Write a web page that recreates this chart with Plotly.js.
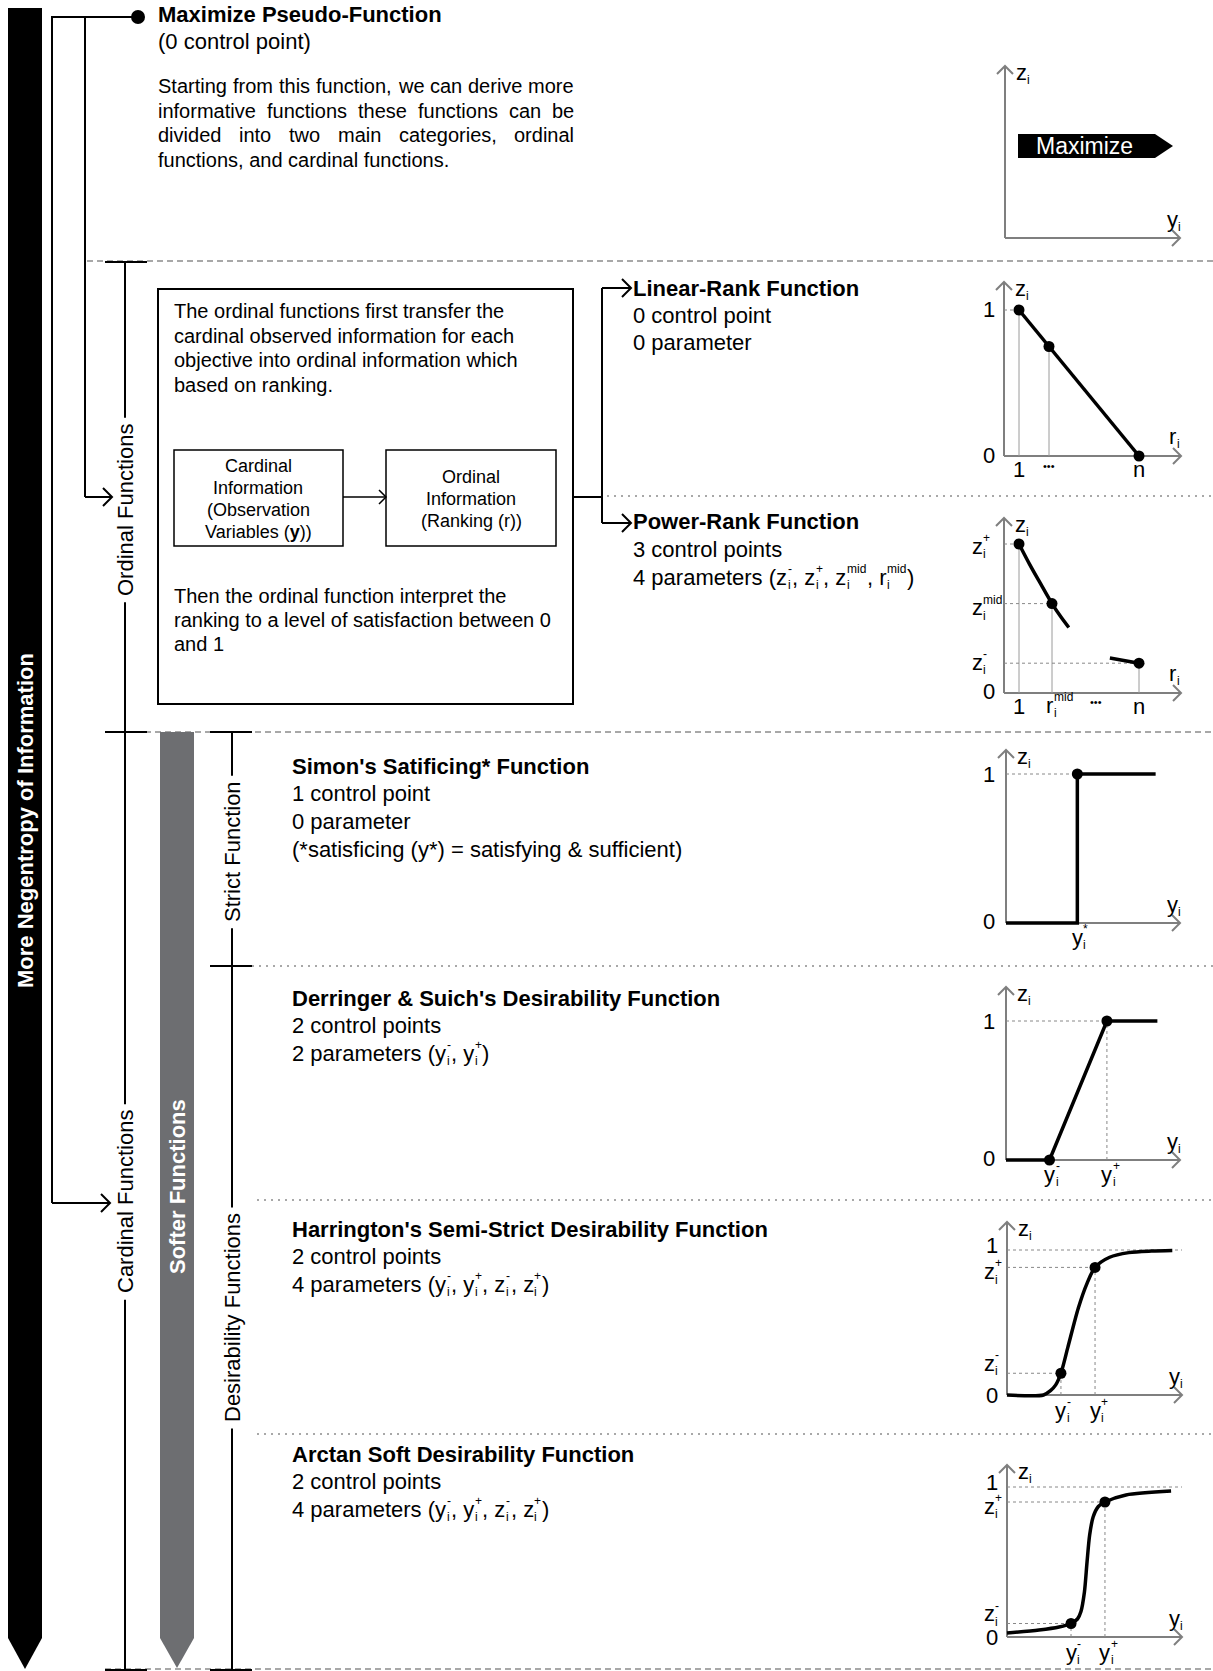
<!DOCTYPE html>
<html><head><meta charset="utf-8">
<script src="https://cdn.plot.ly/plotly-3.0.1.min.js"></script>
<style>html,body{margin:0;padding:0;background:#fff}#chart{width:1213px;height:1671px}</style>
</head><body><div id="chart"></div>
<script>
// ---------------- data ----------------
const linearRankR = [1, 2, 5];
const linearRankZ = [1, 0.75, 0];
const linearRankTickText = ['1', '•••', 'n'];

const powerRankR = [1, 2.1, 5];
const powerRankZ = [1, 0.6, 0.2];
const powerHeadR = [1, 1.35, 1.7, 2.1, 2.4, 2.66];
const powerHeadZ = [1, 0.865, 0.74, 0.6, 0.51, 0.44];
const powerTailR = [4.03, 5];
const powerTailZ = [0.235, 0.2];
const powerDotsR = 3.57;

const simonY = [0, 4.1, 4.1, 8.6];
const simonZ = [0, 0, 1, 1];
const simonCtrlY = [4.1];
const simonCtrlZ = [1];

const derringerY = [0, 2.5, 5.8, 8.7];
const derringerZ = [0, 0, 1, 1];
const derringerCtrlY = [2.5, 5.8];
const derringerCtrlZ = [0, 1];

const harringtonY = [0, 2.1, 2.5, 2.8, 3.1, 3.5, 4.1, 4.6, 5.06, 5.9, 7.0, 8.3, 9.5];
const harringtonZ = [0, 0, 0.03, 0.07, 0.15, 0.33, 0.6, 0.77, 0.88, 0.95, 0.982, 0.993, 0.997];
const harringtonCtrlY = [3.1, 5.06];
const harringtonCtrlZ = [0.15, 0.88];

const arctanY = [0, 1.84, 2.99, 3.68, 4.05, 4.25, 4.45, 4.6, 4.75, 4.95, 5.25, 5.63, 6.84, 9.43];
const arctanZ = [0.027, 0.047, 0.067, 0.09, 0.12, 0.17, 0.3, 0.5, 0.68, 0.8, 0.87, 0.9, 0.947, 0.973];
const arctanCtrlY = [3.68, 5.63];
const arctanCtrlZ = [0.09, 0.9];

// ---------------- helpers ----------------
const W = 1213, H = 1671;
const FONT = 'Liberation Sans, Arial, sans-serif';
const ctx = document.createElement('canvas').getContext('2d');
function tw(s, size, bold) { ctx.font = (bold ? 'bold ' : '') + size + 'px "Liberation Sans"'; return ctx.measureText(s).width; }
function esc(s) { return s.replace(/&/g, '&amp;').replace(/</g, '&lt;').replace(/>/g, '&gt;'); }

const annotations = [];
const shapes = [];
const traces = [];
const layout = {
  width: W, height: H, margin: {l: 0, r: 0, t: 0, b: 0, pad: 0},
  paper_bgcolor: '#fff', plot_bgcolor: 'rgba(0,0,0,0)', showlegend: false,
  xaxis: {domain: [0, 1], range: [0, W], visible: false, fixedrange: true, anchor: 'y'},
  yaxis: {domain: [0, 1], range: [H, 0], visible: false, fixedrange: true, anchor: 'x'}
};

function txt(x, y, text, o = {}) {
  annotations.push({
    xref: o.xref || 'x', yref: o.yref || 'y', x: x, y: y, text: text, showarrow: false,
    xanchor: o.xa || 'left', yanchor: o.ya || 'middle',
    xshift: o.dx || 0, yshift: o.dy || 0,
    font: {family: FONT, size: o.size || 22, color: o.color || '#000'},
    textangle: o.angle || 0, borderpad: o.pad || 0, borderwidth: 0,
    bgcolor: o.bg || 'rgba(0,0,0,0)'
  });
}
function rich(x, y, parts, o = {}) {
  const size = o.size || 22, bold = !!o.bold, ss = o.ss || Math.round(size * 0.56);
  let off = o.dx || 0;
  const base = o.dy || 0;
  for (const p of parts) {
    if (typeof p === 'string') {
      const body = p.replace(/^ +/, '');
      const lead = tw(p.slice(0, p.length - body.length), size, bold);
      const t = body.replace(/ +$/, '');
      if (t) txt(x, y, bold ? '<b>' + esc(t) + '</b>' : esc(t), Object.assign({}, o, {size: size, dx: off + lead, dy: base, xa: 'left'}));
      off += tw(p, size, bold);
    } else {
      if (p.sub) txt(x, y, esc(p.sub), Object.assign({}, o, {size: ss, dx: off + 0.5, dy: base - size * 0.37, xa: 'left'}));
      if (p.sup) txt(x, y, esc(p.sup), Object.assign({}, o, {size: ss, dx: off + 0.5, dy: base + size * 0.36, xa: 'left'}));
      off += Math.max(p.sub ? tw(p.sub, ss) : 0, p.sup ? tw(p.sup, ss) : 0) + 1;
    }
  }
}
function lab(x, y, baseTxt, sub, sup, o = {}) {
  const size = o.size || 22;
  const w = tw(baseTxt, size);
  const parts = (sub || sup) ? [baseTxt, {sub: sub, sup: sup}] : [baseTxt];
  rich(x, y, parts, Object.assign({}, o, {dx: (o.dx || 0) - w / 2}));
}
function justify(line, x0, x1, y, size) {
  const words = line.split(' ');
  const ws = words.map(w => tw(w, size));
  const gap = (x1 - x0 - ws.reduce((a, b) => a + b, 0)) / (words.length - 1);
  let cx = x0;
  words.forEach((w, i) => { txt(cx, y, esc(w), {size: size}); cx += ws[i] + gap; });
}

function line(x0, y0, x1, y1, color, width, dash, layer) {
  shapes.push({type: 'line', xref: 'x', yref: 'y', x0, y0, x1, y1, layer: layer || 'below',
    line: {color: color || '#000', width: width || 2, dash: dash || 'solid'}});
}
function path(d, color, width, fill, layer) {
  shapes.push({type: 'path', xref: 'x', yref: 'y', path: d, layer: layer || 'below',
    fillcolor: fill || 'rgba(0,0,0,0)', line: {color: color || '#000', width: width === undefined ? 2 : width}});
}
function rect(x0, y0, x1, y1, color, width, fill) {
  shapes.push({type: 'rect', xref: 'x', yref: 'y', x0, y0, x1, y1, layer: 'below',
    fillcolor: fill || 'rgba(0,0,0,0)', line: {color: color || '#000', width: width || 2}});
}
function chevR(x, y, s, c, w) { path(`M ${x - s} ${y - s} L ${x} ${y} L ${x - s} ${y + s}`, c, w); }
function chevU(x, y, s, c, w) { path(`M ${x - s} ${y + s} L ${x} ${y} L ${x + s} ${y + s}`, c, w); }
// vertical line with labelled gaps: labels = [[text, centerY], ...]
function labelledVLine(x, y0, y1, labels) {
  let cur = y0;
  labels.forEach(l => {
    const half = tw(l[0], 22) / 2 + 6;
    line(x, cur, x, l[1] - half);
    txt(x, l[1], l[0], {xa: 'center', angle: -90});
    cur = l[1] + half;
  });
  line(x, cur, x, y1);
}

const GRAY_AX = '#7f7f7f';
const SEP = '#8c8c8c';
function frame(p) {
  line(p.ox, p.yTop, p.ox, p.oy, GRAY_AX, 2);
  line(p.ox, p.oy, p.xEnd, p.oy, GRAY_AX, 2);
  chevU(p.ox, p.yTop, 8, GRAY_AX, 2);
  chevR(p.xEnd, p.oy, 8, GRAY_AX, 2);
}
function panel(p) {
  const pad = 10;
  layout['xaxis' + p.id] = {domain: [(p.ox - pad) / W, (p.xEnd + pad) / W],
    range: [p.x0 - pad / p.kx, p.x0 + (p.xEnd - p.ox + pad) / p.kx],
    visible: false, fixedrange: true, anchor: 'y' + p.id};
  layout['yaxis' + p.id] = {domain: [(H - p.oy - pad) / H, (H - p.yTop + pad) / H],
    range: [-pad / p.ky, (p.oy - p.yTop + pad) / p.ky],
    visible: false, fixedrange: true, anchor: 'x' + p.id};
  frame(p);
}
function ax(p) { return {xaxis: 'x' + p.id, yaxis: 'y' + p.id}; }
function guide(p, segs, dash, color, width) {
  const xs = [], ys = [];
  segs.forEach(s => { xs.push(s[0], s[2], null); ys.push(s[1], s[3], null); });
  traces.push(Object.assign({type: 'scatter', mode: 'lines', x: xs, y: ys, hoverinfo: 'skip',
    line: {color: color || '#888', width: width || 1, dash: dash || 'dot'}}, ax(p)));
}
function curve(p, xs, ys, shape) {
  traces.push(Object.assign({type: 'scatter', mode: 'lines', x: xs, y: ys, hoverinfo: 'skip', cliponaxis: false,
    line: {color: '#000', width: 3.5, shape: shape || 'linear', smoothing: 0.8}}, ax(p)));
}
function dots(p, xs, ys) {
  traces.push(Object.assign({type: 'scatter', mode: 'markers', x: xs, y: ys, hoverinfo: 'skip', cliponaxis: false,
    marker: {color: '#000', size: 11}}, ax(p)));
}

// ---------------- panel geometry ----------------
const PMAX = {ox: 1005, oy: 238, xEnd: 1180, yTop: 66};
const PLIN = {id: 2, ox: 1004, oy: 456, xEnd: 1181, yTop: 282, x0: 0.5, kx: 30, ky: 146};
const PPOW = {id: 3, ox: 1004, oy: 693, xEnd: 1181, yTop: 518, x0: 0.5, kx: 30, ky: 149};
const PSIM = {id: 4, ox: 1006, oy: 923, xEnd: 1180, yTop: 750, x0: 0, kx: 17.4, ky: 149};
const PDER = {id: 5, ox: 1006, oy: 1160, xEnd: 1180, yTop: 987, x0: 0, kx: 17.4, ky: 139};
const PHAR = {id: 6, ox: 1007, oy: 1395, xEnd: 1182, yTop: 1222, x0: 0, kx: 17.4, ky: 145};
const PARC = {id: 7, ox: 1007, oy: 1637, xEnd: 1182, yTop: 1465, x0: 0, kx: 17.4, ky: 150};

// ---------------- separators ----------------
line(87, 261, W, 261, SEP, 1.5, '6px,4px');
line(105, 732, W, 732, SEP, 1.5, '6px,4px');
line(105, 1669, W, 1669, SEP, 1.5, '6px,4px');
line(607, 496, W, 496, SEP, 1.5, '2px,5px');
line(252, 966, W, 966, SEP, 1.5, '2px,5px');
line(257, 1200, W, 1200, SEP, 1.5, '2px,5px');
line(257, 1434, W, 1434, SEP, 1.5, '2px,5px');

// ---------------- big bars ----------------
path('M 8 8 L 42 8 L 42 1638 L 25 1669 L 8 1638 Z', '#000', 0, '#000');
path('M 160 732 L 194 732 L 194 1638 L 177 1668 L 160 1638 Z', '#6d6e71', 0, '#6d6e71');
txt(25, 821, '<b>More Negentropy of Information</b>', {xa: 'center', angle: -90, color: '#fff', size: 22});
txt(177, 1187, '<b>Softer Functions</b>', {xa: 'center', angle: -90, color: '#fff', size: 22});

// ---------------- connectors ----------------
line(52, 17, 138, 17);
shapes.push({type: 'circle', xref: 'x', yref: 'y', x0: 131, x1: 145, y0: 10, y1: 24, fillcolor: '#000', line: {color: '#000', width: 0}, layer: 'below'});
line(52, 16, 52, 1203); line(52, 1203, 110, 1203); chevR(110, 1203, 9);
line(85, 17, 85, 497); line(85, 497, 112, 497); chevR(112, 497, 9);

labelledVLine(125, 262, 1670, [['Ordinal Functions', 510], ['Cardinal Functions', 1202]]);
line(105, 262, 147, 262); line(105, 732, 147, 732); line(105, 1670, 147, 1670);
labelledVLine(232, 732, 1670, [['Strict Function', 852], ['Desirability Functions', 1318]]);
line(210, 732, 252, 732); line(210, 966, 252, 966); line(210, 1670, 252, 1670);

// ---------------- section 1: maximize ----------------
txt(158, 14, '<b>Maximize Pseudo-Function</b>');
txt(158, 41, '(0 control point)');
const maxPara = ['Starting from this function, we can derive more',
  'informative functions these functions can be',
  'divided into two main categories, ordinal',
  'functions, and cardinal functions.'];
const maxParaY = [86, 111, 135, 160];
maxPara.forEach((l, i) => { if (i < 3) justify(l, 158, 574, maxParaY[i], 20); else txt(158, maxParaY[i], esc(l), {size: 20}); });
frame(PMAX);
path('M 1018 134 L 1155 134 L 1173 146 L 1155 158 L 1018 158 Z', '#000', 0, '#000');
txt(1084, 146, 'Maximize', {xa: 'center', color: '#fff', size: 23});
lab(PMAX.ox + 16, PMAX.yTop + 6, 'z', 'i', null);
lab(PMAX.xEnd - 8, PMAX.oy - 19, 'y', 'i', null);

// ---------------- section 2: ordinal ----------------
rect(158, 289, 573, 704, '#000', 2);
['The ordinal functions first transfer the', 'cardinal observed information for each',
 'objective into ordinal information which', 'based on ranking.'].forEach((l, i) => txt(174, [311, 336, 360, 385][i], l, {size: 20}));
['Then the ordinal function interpret the', 'ranking to a level of satisfaction between 0', 'and 1']
  .forEach((l, i) => txt(174, [596, 620, 644][i], l, {size: 20}));
rect(174, 450, 343, 546, '#000', 1.5);
rect(386, 450, 556, 546, '#000', 1.5);
['Cardinal', 'Information', '(Observation', 'Variables (<b>y</b>))'].forEach((l, i) => txt(258, [466, 488, 510, 532][i], l, {size: 18, xa: 'center'}));
['Ordinal', 'Information', '(Ranking (r))'].forEach((l, i) => txt(471, [477, 499, 521][i], l, {size: 18, xa: 'center'}));
line(343, 497, 386, 497, '#000', 1.5); chevR(386, 497, 7, '#000', 1.5);
line(573, 497, 602, 497); line(602, 288, 602, 523);
line(602, 288, 631, 288); chevR(631, 288, 9);
line(602, 523, 631, 523); chevR(631, 523, 9);

txt(633, 288, '<b>Linear-Rank Function</b>');
txt(633, 315, '0 control point');
txt(633, 342, '0 parameter');
txt(633, 521, '<b>Power-Rank Function</b>');
txt(633, 549, '3 control points');
rich(633, 577, ['4 parameters (z', {sub: 'i', sup: '-'}, ', z', {sub: 'i', sup: '+'}, ', z', {sub: 'i', sup: 'mid'}, ', r', {sub: 'i', sup: 'mid'}, ')']);

// Linear-rank panel
panel(PLIN);
guide(PLIN, linearRankR.slice(0, 2).map((r, i) => [r, 0, r, linearRankZ[i]]), 'solid', '#9a9a9a', 1);
guide(PLIN, [[PLIN.x0, linearRankZ[0], linearRankR[0], linearRankZ[0]]], 'dot', '#888', 1);
curve(PLIN, linearRankR, linearRankZ);
dots(PLIN, linearRankR, linearRankZ);
txt(989, linearRankZ[0], '1', {yref: 'y2', xa: 'center'});
txt(989, 0, '0', {yref: 'y2', xa: 'center'});
linearRankR.forEach((r, i) => {
  const isDots = linearRankTickText[i] === '•••';
  txt(r, isDots ? PLIN.oy + 10 : PLIN.oy + 13, linearRankTickText[i], {xref: 'x2', xa: 'center', size: isDots ? 11 : 22});
});
lab(PLIN.ox + 16, PLIN.yTop + 6, 'z', 'i', null);
lab(PLIN.xEnd - 8, PLIN.oy - 20, 'r', 'i', null);

// Power-rank panel
panel(PPOW);
guide(PPOW, powerRankR.map((r, i) => [r, 0, r, powerRankZ[i]]), 'solid', '#9a9a9a', 1);
guide(PPOW, powerRankR.map((r, i) => [PPOW.x0, powerRankZ[i], r, powerRankZ[i]]), 'dot', '#888', 1);
curve(PPOW, powerHeadR, powerHeadZ, 'spline');
curve(PPOW, powerTailR, powerTailZ);
dots(PPOW, powerRankR, powerRankZ);
lab(977, powerRankZ[0], 'z', 'i', '+', {yref: 'y3', dy: -2});
lab(977, powerRankZ[1], 'z', 'i', 'mid', {yref: 'y3', dy: -4});
lab(977, powerRankZ[2], 'z', 'i', '-', {yref: 'y3', dy: 1});
txt(989, 0, '0', {yref: 'y3', xa: 'center', dy: 2});
txt(powerRankR[0], PPOW.oy + 13, '1', {xref: 'x3', xa: 'center'});
lab(powerRankR[1], PPOW.oy + 12, 'r', 'i', 'mid', {xref: 'x3', dx: -2});
txt(powerDotsR, PPOW.oy + 9, '•••', {xref: 'x3', xa: 'center', size: 11});
txt(powerRankR[2], PPOW.oy + 13, 'n', {xref: 'x3', xa: 'center'});
lab(PPOW.ox + 16, PPOW.yTop + 6, 'z', 'i', null);
lab(PPOW.xEnd - 8, PPOW.oy - 20, 'r', 'i', null);

// ---------------- section 3: cardinal ----------------
txt(292, 766, "<b>Simon's Satificing* Function</b>");
txt(292, 793, '1 control point');
txt(292, 821, '0 parameter');
txt(292, 849, '(*satisficing (y*) = satisfying &amp; sufficient)');

txt(292, 998, "<b>Derringer &amp; Suich's Desirability Function</b>");
txt(292, 1025, '2 control points');
rich(292, 1053, ['2 parameters (y', {sub: 'i', sup: '-'}, ', y', {sub: 'i', sup: '+'}, ')']);

txt(292, 1229, "<b>Harrington's Semi-Strict Desirability Function</b>");
txt(292, 1256, '2 control points');
rich(292, 1284, ['4 parameters (y', {sub: 'i', sup: '-'}, ', y', {sub: 'i', sup: '+'}, ', z', {sub: 'i', sup: '-'}, ', z', {sub: 'i', sup: '+'}, ')']);

txt(292, 1454, '<b>Arctan Soft Desirability Function</b>');
txt(292, 1481, '2 control points');
rich(292, 1509, ['4 parameters (y', {sub: 'i', sup: '-'}, ', y', {sub: 'i', sup: '+'}, ', z', {sub: 'i', sup: '-'}, ', z', {sub: 'i', sup: '+'}, ')']);

// Simon panel
panel(PSIM);
guide(PSIM, [[0, simonCtrlZ[0], simonCtrlY[0], simonCtrlZ[0]]]);
curve(PSIM, simonY, simonZ);
dots(PSIM, simonCtrlY, simonCtrlZ);
txt(989, 1, '1', {yref: 'y4', xa: 'center'});
txt(989, 0, '0', {yref: 'y4', xa: 'center', dy: 2});
lab(simonCtrlY[0], PSIM.oy + 14, 'y', 'i', '*', {xref: 'x4'});
lab(PSIM.ox + 16, PSIM.yTop + 6, 'z', 'i', null);
lab(PSIM.xEnd - 8, PSIM.oy - 19, 'y', 'i', null);

// Derringer panel
panel(PDER);
guide(PDER, [[0, 1, derringerCtrlY[1], 1], [derringerCtrlY[1], 0, derringerCtrlY[1], derringerCtrlZ[1]]]);
curve(PDER, derringerY, derringerZ);
dots(PDER, derringerCtrlY, derringerCtrlZ);
txt(989, 1, '1', {yref: 'y5', xa: 'center'});
txt(989, 0, '0', {yref: 'y5', xa: 'center', dy: 2});
lab(derringerCtrlY[0], PDER.oy + 14, 'y', 'i', '-', {xref: 'x5'});
lab(derringerCtrlY[1], PDER.oy + 14, 'y', 'i', '+', {xref: 'x5'});
lab(PDER.ox + 16, PDER.yTop + 6, 'z', 'i', null);
lab(PDER.xEnd - 8, PDER.oy - 19, 'y', 'i', null);

// Harrington & Arctan panels
function softPanel(P, ys, zs, cy, cz, id) {
  panel(P);
  const xr = 'x' + id, yr = 'y' + id;
  const xMax = (P.xEnd - P.ox) / P.kx;
  guide(P, [[0, 1, xMax, 1],
    [0, cz[0], cy[0], cz[0]], [0, cz[1], cy[1], cz[1]],
    [cy[0], 0, cy[0], cz[0]], [cy[1], 0, cy[1], cz[1]]]);
  curve(P, ys, zs, 'spline');
  dots(P, cy, cz);
  txt(992, 1, '1', {yref: yr, xa: 'center', dy: 5});
  lab(989, cz[1], 'z', 'i', '+', {yref: yr, dy: -4});
  lab(989, cz[0], 'z', 'i', '-', {yref: yr, dy: 10});
  txt(992, 0, '0', {yref: yr, xa: 'center', dy: 0});
  lab(cy[0], P.oy + 15, 'y', 'i', '-', {xref: xr});
  lab(cy[1], P.oy + 15, 'y', 'i', '+', {xref: xr});
  lab(P.ox + 16, P.yTop + 6, 'z', 'i', null);
  lab(P.xEnd - 8, P.oy - 19, 'y', 'i', null);
}
softPanel(PHAR, harringtonY, harringtonZ, harringtonCtrlY, harringtonCtrlZ, 6);
softPanel(PARC, arctanY, arctanZ, arctanCtrlY, arctanCtrlZ, 7);

layout.shapes = shapes;
layout.annotations = annotations;
Plotly.newPlot('chart', traces, layout, {staticPlot: true, displayModeBar: false});
</script>
</body></html>
